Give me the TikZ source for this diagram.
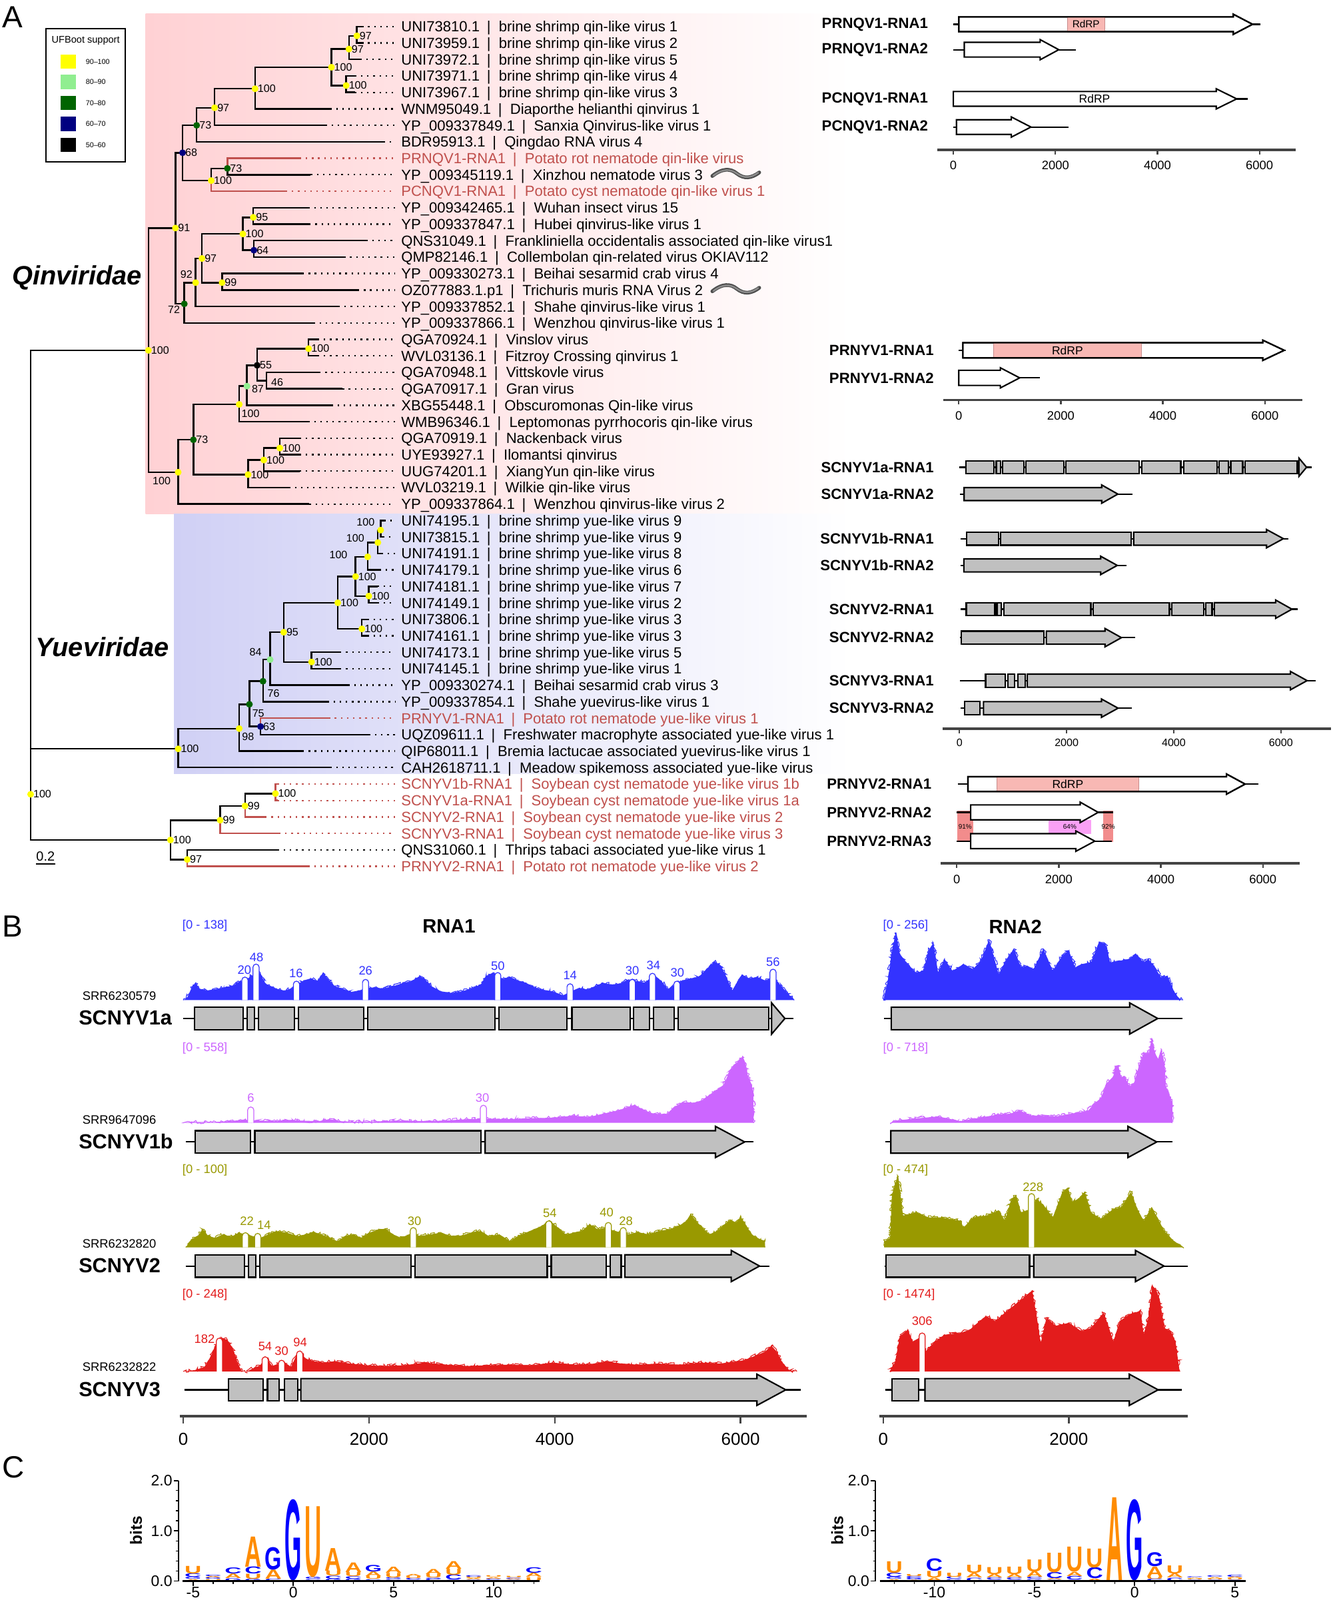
\documentclass[tikz,border=0pt]{standalone}
\usepackage{fontspec}
\setmainfont{Liberation Sans}
\usepackage{graphicx}
\usetikzlibrary{decorations.pathmorphing}
\newcommand\fsz[1]{\fontsize{#1}{#1}\selectfont}
\newcommand\vsep{\hspace{7pt}|\hspace{8pt}}
\definecolor{qpink}{RGB}{255,209,212}
\definecolor{yblue}{RGB}{208,208,245}
\definecolor{tred}{RGB}{192,80,77}
\definecolor{ufyel}{RGB}{255,255,0}
\definecolor{uflg}{RGB}{144,238,144}
\definecolor{ufdg}{RGB}{0,100,0}
\definecolor{ufnv}{RGB}{0,0,128}
\definecolor{covblue}{RGB}{51,51,255}
\definecolor{covviol}{RGB}{204,102,255}
\definecolor{covolive}{RGB}{153,153,0}
\definecolor{covred}{RGB}{227,28,28}
\definecolor{rdrp}{RGB}{248,184,180}
\definecolor{rdrpd}{RGB}{200,140,140}
\definecolor{pct}{RGB}{242,140,140}
\definecolor{pctm}{RGB}{250,160,245}
\definecolor{logoA}{RGB}{255,140,0}
\definecolor{logoU}{RGB}{255,140,0}
\definecolor{logoG}{RGB}{0,0,255}
\definecolor{logoC}{RGB}{0,0,255}
\definecolor{axgray}{RGB}{68,68,68}
\definecolor{ggray}{RGB}{192,192,192}
\tikzset{
  br/.style={line width=1.6pt},
  lead/.style={line width=1.5pt, dash pattern=on 1.5pt off 4.5pt},
  lab/.style={inner sep=0pt, font=\fsz{14.4}},
  sup/.style={inner sep=0pt, font=\fsz{10.5}},
  gdraw/.style={line width=1.4pt, line join=miter},
  glab/.style={inner sep=0pt, anchor=east, font={\fsz{14.5}\bfseries}},
  axisl/.style={line width=2.5pt, draw=axgray},
  tickl/.style={line width=1.5pt, draw=axgray},
  ticklab/.style={inner sep=0pt, anchor=north},
  jag/.style={line width=0.7pt, decorate, decoration={random steps,segment length=1.3pt,amplitude=1.7pt}},
}
\newcommand\tip[4]{%
  \pgfmathsetmacro\ty{26+(#1-1)*16.137}%
  \coordinate (t#1) at (#2,\ty);%
  \coordinate (e#1) at (387,\ty);%
  \node[lab,text=#4,anchor=base west] (L#1) at (393,\ty+5.2) {#3};%
  \draw[lead,draw=#4] (t#1) -- (e#1);}
\newcommand\ed[3][black]{\draw[br,draw=#1] (#2) |- (#3);}
\newcommand\dt[2]{\fill[#2] (#1) circle (3.3pt);}
\newcommand\supl[2]{\node[sup,anchor=west] (s-#1) at ([xshift=2.5pt]#1) {#2};}
\newcommand\gln[2]{\draw[gdraw] (#1,0) -- (#2,0);}
\newcommand\gbx[3]{\filldraw[gdraw,fill=#3] (#1,-\gbh) rectangle (#2,\gbh);}
\newcommand\gar[4]{\filldraw[gdraw,fill=#4] (#1,-\gbh) -- (#2,-\gbh) -- (#2,-\ghh) -- (#3,0) -- (#2,\ghh) -- (#2,\gbh) -- (#1,\gbh) -- cycle;}
\newcommand\garo[3]{\draw[gdraw] (#1,-\gbh) -- (#2,-\gbh) -- (#2,-\ghh) -- (#3,0) -- (#2,\ghh) -- (#2,\gbh) -- (#1,\gbh) -- cycle;}
\newcommand\genAa{\gln{0}{6570}\gbx{120}{645}{ggray}\gbx{686}{768}{ggray}\gbx{808}{1200}{ggray}\gbx{1242}{1944}{ggray}\gbx{1989}{3354}{ggray}\gbx{3402}{4130}{ggray}\gbx{4185}{4810}{ggray}\gbx{4847}{5018}{ggray}\gbx{5063}{5286}{ggray}\gbx{5330}{6305}{ggray}\filldraw[gdraw,fill=ggray] (6335,-\ghh) -- (6478,0) -- (6335,\ghh) -- cycle;}
\newcommand\genAb{\gln{10}{3225}\gar{86}{2653}{2956}{ggray}}
\newcommand\genBa{\gln{25}{6137}\gbx{130}{726}{ggray}\gbx{770}{3205}{ggray}\gar{3250}{5730}{6045}{ggray}}
\newcommand\genBb{\gln{25}{3115}\gar{82}{2635}{2945}{ggray}}
\newcommand\genCa{\gln{25}{6310}\gbx{127}{662}{ggray}\gbx{699}{780}{ggray}\gbx{825}{2452}{ggray}\gbx{2495}{3919}{ggray}\gbx{3962}{4557}{ggray}\gbx{4600}{4715}{ggray}\gar{4756}{5900}{6205}{ggray}}
\newcommand\genCb{\gln{13}{3282}\gbx{32}{1575}{ggray}\gar{1620}{2716}{3023}{ggray}}
\newcommand\genDa{\gln{10}{6645}\gbx{488}{858}{ggray}\gbx{906}{1030}{ggray}\gbx{1087}{1231}{ggray}\gar{1266}{6177}{6488}{ggray}}
\newcommand\genDb{\gln{25}{3213}\gbx{97}{380}{ggray}\gar{449}{2650}{2960}{ggray}}
\newcommand\junc[7]{%
  \filldraw[fill=white,draw=#4,line width=0.8pt] (#1-3,#2) -- (#1-3,#3+3) arc[start angle=180,end angle=0,radius=3pt] -- (#1+3,#2);
  \node[inner sep=0pt,font=\fsz{12},text=#4] at (#6,#7) {#5};}
\newcommand\logocol[3]{%
  \pgfmathsetmacro\lgx{#1+19.64*#2}%
  \gdef\cumh{0}%
  \foreach \lL/\lH in {#3}{%
    \pgfmathsetmacro\ybot{1549.4-\cumh*49.2}%
    \pgfmathsetmacro\lhh{\lH*49.2}%
    \node[inner sep=0pt,anchor=south] at (\lgx,\ybot) {\resizebox*{16.5pt}{\lhh pt}{\bfseries\color{logo\lL}\lL}};%
    \pgfmathsetmacro\newc{\cumh+\lH}\xdef\cumh{\newc}%
  }}
\begin{document}
\begin{tikzpicture}[x=1pt,y=-1pt]
\useasboundingbox (0,0) rectangle (1306,1568);
\fill[white] (0,0) rectangle (1306,1568);
% ---------- backgrounds
\shade[left color=qpink,middle color=qpink!80!white,right color=white] (142.7,13.6) rectangle (835,503.6);
\shade[left color=yblue,middle color=yblue!80!white,right color=white] (170.5,503.6) rectangle (835,757.9);
% ---------- panel letters
\node[anchor=north west,inner sep=0pt,font=\fsz{30}] (pA) at (2,6) {A};
\node[anchor=north west,inner sep=0pt,font=\fsz{30}] (pB) at (2,897) {B};
\node[anchor=north west,inner sep=0pt,font=\fsz{30}] (pC) at (2,1427) {C};
% ---------- legend
\draw[line width=1.4pt] (45.2,28.3) rectangle (122.6,158.8);
\node[inner sep=0pt,font=\fsz{9.5}] (legt) at (84,39.5) {UFBoot support};
\fill[ufyel] (59.6,53.4) rectangle (74.4,67.4);
\fill[uflg] (59.6,73.2) rectangle (74.4,87.2);
\fill[ufdg] (59.6,94) rectangle (74.4,108);
\fill[ufnv] (59.6,114.5) rectangle (74.4,128.5);
\fill[black] (59.6,134.9) rectangle (74.4,148.9);
\node[anchor=west,inner sep=0pt,font=\fsz{7}] (lg1) at (83.9,60.4) {90--100};
\node[anchor=west,inner sep=0pt,font=\fsz{7}] (lg2) at (83.9,80.2) {80--90};
\node[anchor=west,inner sep=0pt,font=\fsz{7}] (lg3) at (83.9,101) {70--80};
\node[anchor=west,inner sep=0pt,font=\fsz{7}] (lg4) at (83.9,121.5) {60--70};
\node[anchor=west,inner sep=0pt,font=\fsz{7}] (lg5) at (83.9,141.9) {50--60};
% ---------- tips
\tip{1}{354.6}{UNI73810.1\vsep brine shrimp qin-like virus 1}{black}
\tip{2}{354.6}{UNI73959.1\vsep brine shrimp qin-like virus 2}{black}
\tip{3}{353}{UNI73972.1\vsep brine shrimp qin-like virus 5}{black}
\tip{4}{347.8}{UNI73971.1\vsep brine shrimp qin-like virus 4}{black}
\tip{5}{347.8}{UNI73967.1\vsep brine shrimp qin-like virus 3}{black}
\tip{6}{323.5}{WNM95049.1\vsep Diaporthe helianthi qinvirus 1}{black}
\tip{7}{319}{YP\_009337849.1\vsep Sanxia Qinvirus-like virus 1}{black}
\tip{8}{376}{BDR95913.1\vsep Qingdao RNA virus 4}{black}
\tip{9}{293.7}{PRNQV1-RNA1\vsep Potato rot nematode qin-like virus}{tred}
\tip{10}{304.5}{YP\_009345119.1\vsep Xinzhou nematode virus 3}{black}
\tip{11}{280}{PCNQV1-RNA1\vsep Potato cyst nematode qin-like virus 1}{tred}
\tip{12}{301.8}{YP\_009342465.1\vsep Wuhan insect virus 15}{black}
\tip{13}{303}{YP\_009337847.1\vsep Hubei qinvirus-like virus 1}{black}
\tip{14}{358.7}{QNS31049.1\vsep Frankliniella occidentalis associated qin-like virus1}{black}
\tip{15}{337}{QMP82146.1\vsep Collembolan qin-related virus OKIAV112}{black}
\tip{16}{296.4}{YP\_009330273.1\vsep Beihai sesarmid crab virus 4}{black}
\tip{17}{350.6}{OZ077883.1.p1\vsep Trichuris muris RNA Virus 2}{black}
\tip{18}{331.6}{YP\_009337852.1\vsep Shahe qinvirus-like virus 1}{black}
\tip{19}{307.2}{YP\_009337866.1\vsep Wenzhou qinvirus-like virus 1}{black}
\tip{20}{311.3}{QGA70924.1\vsep Vinslov virus}{black}
\tip{21}{311.3}{WVL03136.1\vsep Fitzroy Crossing qinvirus 1}{black}
\tip{22}{312.7}{QGA70948.1\vsep Vittskovle virus}{black}
\tip{23}{335.7}{QGA70917.1\vsep Gran virus}{black}
\tip{24}{324.8}{XBG55448.1\vsep Obscuromonas Qin-like virus}{black}
\tip{25}{301.8}{WMB96346.1\vsep Leptomonas pyrrhocoris qin-like virus}{black}
\tip{26}{293.7}{QGA70919.1\vsep Nackenback virus}{black}
\tip{27}{293.7}{UYE93927.1\vsep Ilomantsi qinvirus}{black}
\tip{28}{293.7}{UUG74201.1\vsep XiangYun qin-like virus}{black}
\tip{29}{282.9}{WVL03219.1\vsep Wilkie qin-like virus}{black}
\tip{30}{303.2}{YP\_009337864.1\vsep Wenzhou qinvirus-like virus 2}{black}
\tip{31}{376.3}{UNI74195.1\vsep brine shrimp yue-like virus 9}{black}
\tip{32}{375}{UNI73815.1\vsep brine shrimp yue-like virus 9}{black}
\tip{33}{374}{UNI74191.1\vsep brine shrimp yue-like virus 8}{black}
\tip{34}{372}{UNI74179.1\vsep brine shrimp yue-like virus 6}{black}
\tip{35}{370}{UNI74181.1\vsep brine shrimp yue-like virus 7}{black}
\tip{36}{370}{UNI74149.1\vsep brine shrimp yue-like virus 2}{black}
\tip{37}{360}{UNI73806.1\vsep brine shrimp yue-like virus 3}{black}
\tip{38}{360}{UNI74161.1\vsep brine shrimp yue-like virus 3}{black}
\tip{39}{333}{UNI74173.1\vsep brine shrimp yue-like virus 5}{black}
\tip{40}{333}{UNI74145.1\vsep brine shrimp yue-like virus 1}{black}
\tip{41}{341}{YP\_009330274.1\vsep Beihai sesarmid crab virus 3}{black}
\tip{42}{320.8}{YP\_009337854.1\vsep Shahe yuevirus-like virus 1}{black}
\tip{43}{322}{PRNYV1-RNA1\vsep Potato rot nematode yue-like virus 1}{tred}
\tip{44}{361.4}{UQZ09611.1\vsep Freshwater macrophyte associated yue-like virus 1}{black}
\tip{45}{296.4}{QIP68011.1\vsep Bremia lactucae associated yuevirus-like virus 1}{black}
\tip{46}{323.5}{CAH2618711.1\vsep Meadow spikemoss associated yue-like virus}{black}
\tip{47}{272}{SCNYV1b-RNA1\vsep Soybean cyst nematode yue-like virus 1b}{tred}
\tip{48}{272}{SCNYV1a-RNA1\vsep Soybean cyst nematode yue-like virus 1a}{tred}
\tip{49}{259.9}{SCNYV2-RNA1\vsep Soybean cyst nematode yue-like virus 2}{tred}
\tip{50}{273.4}{SCNYV3-RNA1\vsep Soybean cyst nematode yue-like virus 3}{tred}
\tip{51}{272}{QNS31060.1\vsep Thrips tabaci associated yue-like virus 1}{black}
\tip{52}{301.8}{PRNYV2-RNA1\vsep Potato rot nematode yue-like virus 2}{tred}
% ---------- internal nodes
\coordinate (q0) at (145.4,343.3);
\coordinate (n91) at (171.9,223.5);
\coordinate (nlow) at (174.6,462.8);
\coordinate (n68) at (178.9,149.7);
\coordinate (n72) at (180.6,297.8);
\coordinate (n73a) at (192.7,122.8);
\coordinate (n100b) at (207.0,177.0);
\coordinate (n97a) at (210.3,105.6);
\coordinate (n100c) at (249.9,87.0);
\coordinate (n100d) at (324.8,65.9);
\coordinate (n97b) at (341.9,48.1);
\coordinate (n97c) at (349.7,35.1);
\coordinate (n100e) at (339.2,83.8);
\coordinate (n73b) at (222.8,165.0);
\coordinate (n92) at (191.7,277.0);
\coordinate (n97d) at (197.9,253.3);
\coordinate (n100f) at (238.0,229.3);
\coordinate (n95) at (248.2,213.0);
\coordinate (n64) at (248.8,245.2);
\coordinate (n99) at (217.6,277.0);
\coordinate (n73c) at (189.5,431.0);
\coordinate (n100g) at (234.4,396.3);
\coordinate (n87) at (242.0,378.4);
\coordinate (n55) at (252.0,358.0);
\coordinate (n100i) at (302.4,341.7);
\coordinate (n46) at (261.0,373.0);
\coordinate (n100h) at (243.1,465.1);
\coordinate (n100j) at (258.5,450.8);
\coordinate (n100k) at (274.2,439.1);
\coordinate (ny) at (174.6,733.9);
\coordinate (n98) at (234.4,714.0);
\coordinate (n75) at (244.4,690.2);
\coordinate (n63) at (255.3,712.0);
\coordinate (n76) at (257.7,667.6);
\coordinate (n84) at (264.7,646.4);
\coordinate (n95y) at (278.0,619.6);
\coordinate (ny1) at (331.0,590.7);
\coordinate (ny2) at (305.3,648.7);
\coordinate (ny3) at (348.4,565.0);
\coordinate (ny4) at (354.6,616.3);
\coordinate (ny5) at (360.3,545.7);
\coordinate (ny6) at (361.4,584.1);
\coordinate (ny7) at (370.3,531.7);
\coordinate (ny8) at (373.0,519.5);
\coordinate (no) at (167.0,823.2);
\coordinate (n99a) at (215.7,803.8);
\coordinate (n99b) at (240.1,789.8);
\coordinate (n100o) at (269.9,777.7);
\coordinate (n97o) at (183.5,842.3);
\coordinate (qy) at (30,538.6);
\coordinate (root) at (30,778.4);
% ---------- edges
\ed{qy}{q0} \ed{qy}{ny} \ed{root}{qy} \ed{root}{no}
\ed{q0}{n91} \ed{q0}{nlow}
\ed{n91}{n68} \ed{n91}{n72}
\ed{n68}{n73a} \ed{n68}{n100b}
\ed{n73a}{n97a} \ed{n73a}{t8}
\ed{n97a}{n100c} \ed{n97a}{t7}
\ed{n100c}{n100d} \ed{n100c}{t6}
\ed{n100d}{n97b} \ed{n100d}{n100e}
\ed{n97b}{n97c} \ed{n97b}{t3}
\ed{n97c}{t1} \ed{n97c}{t2}
\ed{n100e}{t4} \ed{n100e}{t5}
\ed{n100b}{n73b} \ed[tred]{n100b}{t11}
\ed[tred]{n73b}{t9} \ed{n73b}{t10}
\ed{n72}{n92} \ed{n72}{t19}
\ed{n92}{n97d} \ed{n92}{t18}
\ed{n97d}{n100f} \ed{n97d}{n99}
\ed{n100f}{n95} \ed{n100f}{n64}
\ed{n95}{t12} \ed{n95}{t13}
\ed{n64}{t14} \ed{n64}{t15}
\ed{n99}{t16} \ed{n99}{t17}
\ed{nlow}{n73c} \ed{nlow}{t30}
\ed{n73c}{n100g} \ed{n73c}{n100h}
\ed{n100g}{n87} \ed{n100g}{t25}
\ed{n87}{n55} \ed{n87}{t24}
\ed{n55}{n100i} \ed{n55}{n46}
\ed{n100i}{t20} \ed{n100i}{t21}
\ed{n46}{t22} \ed{n46}{t23}
\ed{n100h}{n100j} \ed{n100h}{t29}
\ed{n100j}{n100k} \ed{n100j}{t28}
\ed{n100k}{t26} \ed{n100k}{t27}
\ed{ny}{n98} \ed{ny}{t46}
\ed{n98}{n75} \ed{n98}{t45}
\ed{n75}{n76} \ed{n75}{n63}
\ed[tred]{n63}{t43} \ed{n63}{t44}
\ed{n76}{n84} \ed{n76}{t42}
\ed{n84}{n95y} \ed{n84}{t41}
\ed{n95y}{ny1} \ed{n95y}{ny2}
\ed{ny2}{t39} \ed{ny2}{t40}
\ed{ny1}{ny3} \ed{ny1}{ny4}
\ed{ny4}{t37} \ed{ny4}{t38}
\ed{ny3}{ny5} \ed{ny3}{ny6}
\ed{ny6}{t35} \ed{ny6}{t36}
\ed{ny5}{ny7} \ed{ny5}{t34}
\ed{ny7}{ny8} \ed{ny7}{t33}
\ed{ny8}{t31} \ed{ny8}{t32}
\ed{no}{n99a} \ed{no}{n97o}
\ed{n99a}{n99b} \ed[tred]{n99a}{t50}
\ed{n99b}{n100o} \ed[tred]{n99b}{t49}
\ed[tred]{n100o}{t47} \ed[tred]{n100o}{t48}
\ed{n97o}{t51} \ed[tred]{n97o}{t52}
% ---------- support dots
\foreach \nn in {n97c,n97b,n100d,n100e,n100c,n97a,n100b,n91,n95,n100f,n97d,n99,n92,q0,n100i,n100g,n100k,n100j,n100h,nlow,ny8,ny7,ny5,ny3,ny6,ny1,ny4,ny2,n95y,n98,ny,root,no,n99a,n99b,n100o,n97o}{\dt{\nn}{ufyel}}
\foreach \nn in {n73a,n73b,n72,n73c,n76,n75}{\dt{\nn}{ufdg}}
\foreach \nn in {n68,n64,n63}{\dt{\nn}{ufnv}}
\foreach \nn in {n87,n84}{\dt{\nn}{uflg}}
\dt{n55}{black}
% ---------- support labels
\supl{n97c}{97} \supl{n97b}{97} \supl{n100d}{100} \supl{n100e}{100} \supl{n100c}{100}
\supl{n97a}{97} \supl{n73a}{73} \supl{n68}{68} \supl{n73b}{73} \supl{n100b}{100}
\supl{n91}{91} \supl{n95}{95} \supl{n100f}{100} \supl{n64}{64} \supl{n97d}{97} \supl{n99}{99}
\supl{q0}{100} \supl{n100i}{100} \supl{n55}{55} \supl{n73c}{73} \supl{n100k}{100} \supl{n100j}{100}
\supl{n100h}{100}
\node[sup] (s92) at (182.7,269) {92};
\node[sup] (s72) at (170.5,303.7) {72};
\node[sup] (slow) at (158.4,471.6) {100};
\node[sup] (s100g) at (245.5,405.4) {100};
\node[sup] (s87) at (252.6,381) {87};
\node[sup] (s46) at (271.6,374.5) {46};
\supl{ny3}{100} \supl{ny6}{100} \supl{ny1}{100} \supl{ny4}{100} \supl{ny2}{100}
\supl{n95y}{95} \supl{n63}{63} \supl{ny}{100}
\node[sup] (sy8) at (358.3,511.9) {100};
\node[sup] (sy7) at (348.2,527.5) {100};
\node[sup] (sy5) at (331.6,543.8) {100};
\node[sup] (s84) at (250.4,639) {84};
\node[sup] (s76) at (268,679.8) {76};
\node[sup] (s75) at (253.1,699.1) {75};
\node[sup] (s98) at (243,721.7) {98};
\supl{root}{100} \supl{no}{100} \supl{n99a}{99} \supl{n99b}{99} \supl{n100o}{100} \supl{n97o}{97}
% ---------- family labels, scale bar, worms
\node[inner sep=0pt,font={\fsz{26}\bfseries\itshape}] (qin) at (75.4,272.2) {Qinviridae};
\node[inner sep=0pt,font={\fsz{26}\bfseries\itshape}] (yue) at (100.2,634.3) {Yueviridae};
\node[inner sep=0pt,font=\fsz{13}] (sc) at (44.6,839.5) {0.2};
\draw[line width=1.2pt] (35.2,846.5) -- (54.1,846.5);
\draw[line width=3.6pt,draw=black!70,line cap=round] (698,172.5) .. controls (708,164.5) and (716,165) .. (722,170) .. controls (729,175.5) and (736,175) .. (744,169);
\draw[line width=1.6pt,draw=black!45,line cap=round] (699,172.2) .. controls (708,165) and (716,165.5) .. (722,170) .. controls (729,175) and (736,174.5) .. (743,169.2);
\draw[line width=3.6pt,draw=black!70,line cap=round] (698,285.5) .. controls (708,277.5) and (716,278) .. (722,283) .. controls (729,288.5) and (736,288) .. (744,282);
\draw[line width=1.6pt,draw=black!45,line cap=round] (699,285.2) .. controls (708,278) and (716,278.5) .. (722,283) .. controls (729,288) and (736,287.5) .. (743,282.2);
% ---------- genome maps, group 1
\node[glab] (g1) at (909.5,23.8) {PRNQV1-RNA1};
\node[glab] (g2) at (909.5,48.7) {PRNQV1-RNA2};
\node[glab] (g3) at (909.5,96.9) {PCNQV1-RNA1};
\node[glab] (g4) at (909.5,124.5) {PCNQV1-RNA2};
\begin{scope}[shift={(934.2pt,-23.8pt)},x=0.05pt]
 \def\gbh{7.2}\def\ghh{9.9}
 \gln{0}{6016}\gar{106}{5484}{5864}{white}
 \filldraw[fill=rdrp,draw=rdrpd,line width=0.5pt] (2232,-7.2) rectangle (2966,7.2);
 \garo{106}{5484}{5864}
 \node[inner sep=0pt,font=\fsz{10}] (r1) at (2599,0) {RdRP};
\end{scope}
\begin{scope}[shift={(934.2pt,-48.7pt)},x=0.05pt]
 \def\gbh{7.2}\def\ghh{9.9}
 \gln{0}{2406}\gar{214}{1700}{2066}{white}
\end{scope}
\begin{scope}[shift={(934.2pt,-96.9pt)},x=0.05pt]
 \def\gbh{7.2}\def\ghh{9.9}
 \gln{5500}{5764}\gar{0}{5152}{5552}{white}
 \node[inner sep=0pt,font=\fsz{11.4}] (r2) at (2766,0) {RdRP};
\end{scope}
\begin{scope}[shift={(934.2pt,-124.5pt)},x=0.05pt]
 \def\gbh{7.2}\def\ghh{9.9}
 \gln{0}{2252}\gar{60}{1136}{1520}{white}
\end{scope}
\draw[axisl] (918.5,147) -- (1269.4,147);
\foreach \v/\xx in {0/934.2,2000/1034.2,4000/1134.2,6000/1234.2}{\draw[tickl] (\xx,147) -- (\xx,151.5); \node[ticklab,font=\fsz{12}] at (\xx,157.6) {\v};}
% ---------- group 2
\node[glab] (g5) at (915.2,343.3) {PRNYV1-RNA1};
\node[glab] (g6) at (915.2,370.3) {PRNYV1-RNA2};
\begin{scope}[shift={(939.5pt,-343.3pt)},x=0.05pt]
 \def\gbh{7.4}\def\ghh{9.9}
 \gln{0}{6410}\gar{80}{5958}{6378}{white}
 \filldraw[fill=rdrp,draw=rdrpd,line width=0.5pt] (680,-7.4) rectangle (3580,7.4);
 \garo{80}{5958}{6378}
 \node[inner sep=0pt,font=\fsz{11.4}] (r3) at (2130,0) {RdRP};
\end{scope}
\begin{scope}[shift={(939.5pt,-370.3pt)},x=0.05pt]
 \def\gbh{7.4}\def\ghh{9.9}
 \gln{1100}{1594}\gar{0}{814}{1194}{white}
\end{scope}
\draw[axisl] (924.2,392) -- (1276,392);
\foreach \v/\xx in {0/939.5,2000/1039.5,4000/1139.5,6000/1239.5}{\draw[tickl] (\xx,392) -- (\xx,396.5); \node[ticklab,font=\fsz{12}] at (\xx,403.1) {\v};}
% ---------- group 3 (SCNYV)
\node[glab] (g7) at (915.2,457.9) {SCNYV1a-RNA1};
\node[glab] (g8) at (915.2,484.2) {SCNYV1a-RNA2};
\node[glab] (g9) at (915.2,527.9) {SCNYV1b-RNA1};
\node[glab] (g10) at (915.2,554.1) {SCNYV1b-RNA2};
\node[glab] (g11) at (915.2,597.0) {SCNYV2-RNA1};
\node[glab] (g12) at (915.2,624.9) {SCNYV2-RNA2};
\node[glab] (g13) at (915.2,667.0) {SCNYV3-RNA1};
\node[glab] (g14) at (915.2,694.0) {SCNYV3-RNA2};
\def\gbh{6.4}\def\ghh{9}
\begin{scope}[shift={(940.2pt,-457.9pt)},x=0.0525pt]\genAa\end{scope}
\begin{scope}[shift={(940.2pt,-484.2pt)},x=0.0525pt]\genAb\end{scope}
\begin{scope}[shift={(940.2pt,-527.9pt)},x=0.0525pt]\genBa\end{scope}
\begin{scope}[shift={(940.2pt,-554.1pt)},x=0.0525pt]\genBb\end{scope}
\begin{scope}[shift={(940.2pt,-597.0pt)},x=0.0525pt]\genCa\end{scope}
\begin{scope}[shift={(940.2pt,-624.9pt)},x=0.0525pt]\genCb\end{scope}
\begin{scope}[shift={(940.2pt,-667.0pt)},x=0.0525pt]\genDa\end{scope}
\begin{scope}[shift={(940.2pt,-694.0pt)},x=0.0525pt]\genDb\end{scope}
\draw[axisl] (923.5,714.4) -- (1304,714.4);
\foreach \v/\xx in {0/940.2,2000/1045.2,4000/1150.2,6000/1255.2}{\draw[tickl] (\xx,714.4) -- (\xx,718.9); \node[ticklab,font=\fsz{10.5}] at (\xx,723.8) {\v};}
% ---------- group 4 (PRNYV2)
\node[glab] (g15) at (912.9,768.4) {PRNYV2-RNA1};
\node[glab] (g16) at (912.9,796.1) {PRNYV2-RNA2};
\node[glab] (g17) at (912.9,824.3) {PRNYV2-RNA3};
\fill[pct] (937.9,794.6) rectangle (953.5,825.2);
\fill[pctm] (1027.5,803.4) rectangle (1069.2,817);
\fill[pct] (1080.8,794.6) rectangle (1090.8,825.2);
\begin{scope}[shift={(937.5pt,-768.4pt)},x=0.05pt]
 \def\gbh{7.3}\def\ghh{9.9}
 \gln{20}{5918}\gar{220}{5286}{5652}{white}
 \filldraw[fill=rdrp,draw=rdrpd,line width=0.5pt] (788,-7.3) rectangle (3566,7.3);
 \garo{220}{5286}{5652}
 \node[inner sep=0pt,font=\fsz{11.4}] (r4) at (2177,0) {RdRP};
\end{scope}
\begin{scope}[shift={(937.5pt,-796.1pt)},x=0.05pt]
 \def\gbh{7.3}\def\ghh{10}
 \gln{0}{3066}\gar{274}{2420}{2772}{white}
\end{scope}
\begin{scope}[shift={(937.5pt,-824.3pt)},x=0.05pt]
 \def\gbh{7.3}\def\ghh{10}
 \gln{0}{3040}\gar{274}{2334}{2706}{white}
\end{scope}
\node[inner sep=0pt,font=\fsz{6.5}] (p91) at (945.7,810) {91\%};
\node[inner sep=0pt,font=\fsz{6.5}] (p64) at (1048.3,810) {64\%};
\node[inner sep=0pt,font=\fsz{6.5}] (p92) at (1086,810) {92\%};
\draw[axisl] (921.9,846.2) -- (1273.4,846.2);
\foreach \v/\xx in {0/937.5,2000/1037.5,4000/1137.5,6000/1237.5}{\draw[tickl] (\xx,846.2) -- (\xx,850.7); \node[ticklab,font=\fsz{12}] at (\xx,857.3) {\v};}
% ---------- panel B coverage, RNA1
\begin{scope}[shift={(0pt,-881.5pt)},x=0.5206pt,y=-0.3332pt]
\def\profBA{(345,296) -- (352,290) -- (362,255) -- (368,245) -- (375,262) -- (390,268) -- (410,262) -- (425,258) -- (440,252) -- (452,240) -- (462,248) -- (472,222) -- (480,228) -- (490,215) -- (498,245) -- (508,255) -- (520,262) -- (535,268) -- (548,262) -- (560,250) -- (572,238) -- (585,232) -- (598,240) -- (608,215) -- (618,235) -- (630,255) -- (645,262) -- (660,272) -- (675,268) -- (690,262) -- (705,258) -- (720,262) -- (740,255) -- (760,245) -- (775,240) -- (790,225) -- (800,235) -- (812,255) -- (830,270) -- (850,275) -- (870,270) -- (890,260) -- (905,250) -- (915,225) -- (928,215) -- (945,235) -- (960,228) -- (975,238) -- (990,245) -- (1005,258) -- (1020,265) -- (1040,270) -- (1060,282) -- (1075,270) -- (1090,260) -- (1105,265) -- (1120,255) -- (1135,245) -- (1150,250) -- (1165,248) -- (1180,238) -- (1200,240) -- (1215,245) -- (1230,220) -- (1245,240) -- (1258,265) -- (1270,250) -- (1285,238) -- (1300,232) -- (1315,228) -- (1330,205) -- (1345,182) -- (1358,198) -- (1368,230) -- (1378,268) -- (1388,242) -- (1398,222) -- (1410,232) -- (1425,228) -- (1440,238) -- (1455,230) -- (1465,245) -- (1478,268) -- (1488,285) -- (1495,296)}
\fill[covblue] \profBA -- cycle;
\draw[covblue,jag] \profBA;
\def\profVA{(345,657) -- (360,654) -- (400,655) -- (430,652) -- (460,648) -- (480,650) -- (520,652) -- (540,648) -- (560,650) -- (600,652) -- (620,646) -- (640,652) -- (680,654) -- (720,652) -- (760,650) -- (800,652) -- (840,650) -- (880,646) -- (920,645) -- (960,646) -- (1000,643) -- (1040,642) -- (1080,636) -- (1110,640) -- (1135,630) -- (1160,622) -- (1180,612) -- (1195,604) -- (1210,618) -- (1230,630) -- (1255,632) -- (1270,610) -- (1285,596) -- (1305,598) -- (1320,592) -- (1335,575) -- (1350,560) -- (1362,545) -- (1372,510) -- (1380,490) -- (1390,475) -- (1398,462) -- (1403,480) -- (1408,520) -- (1415,545) -- (1418,570) -- (1418,657)}
\fill[covviol] \profVA -- cycle;
\draw[covviol,jag] \profVA;
\def\profOA{(350,1023) -- (360,1000) -- (372,990) -- (382,970) -- (392,990) -- (405,995) -- (420,985) -- (435,992) -- (450,980) -- (470,988) -- (490,995) -- (505,985) -- (520,975) -- (540,980) -- (560,990) -- (575,985) -- (590,978) -- (605,985) -- (620,995) -- (635,1005) -- (650,990) -- (665,985) -- (680,995) -- (695,980) -- (710,972) -- (725,968) -- (740,985) -- (755,995) -- (770,985) -- (790,990) -- (810,985) -- (830,980) -- (850,990) -- (870,988) -- (890,978) -- (905,975) -- (920,990) -- (940,985) -- (960,1005) -- (975,990) -- (990,980) -- (1005,970) -- (1020,960) -- (1035,945) -- (1050,965) -- (1065,985) -- (1080,980) -- (1095,975) -- (1110,955) -- (1125,970) -- (1140,965) -- (1155,975) -- (1170,980) -- (1185,985) -- (1200,978) -- (1220,985) -- (1240,975) -- (1260,970) -- (1280,958) -- (1292,945) -- (1300,925) -- (1310,945) -- (1322,965) -- (1335,985) -- (1350,975) -- (1362,958) -- (1375,942) -- (1385,950) -- (1395,935) -- (1405,960) -- (1415,985) -- (1425,995) -- (1440,1005) -- (1440,1023)}
\fill[covolive] \profOA -- cycle;
\draw[covolive,jag] \profOA;
\def\profRA{(345,1388) -- (365,1385) -- (385,1375) -- (398,1340) -- (408,1300) -- (418,1290) -- (428,1295) -- (438,1320) -- (448,1365) -- (455,1388) -- (465,1388) -- (475,1380) -- (490,1370) -- (500,1345) -- (512,1372) -- (525,1365) -- (535,1360) -- (548,1375) -- (558,1340) -- (565,1330) -- (575,1350) -- (590,1358) -- (610,1362) -- (630,1358) -- (660,1365) -- (690,1370) -- (720,1372) -- (760,1370) -- (800,1362) -- (840,1368) -- (880,1372) -- (920,1370) -- (960,1368) -- (1000,1370) -- (1040,1362) -- (1080,1368) -- (1120,1365) -- (1140,1358) -- (1170,1365) -- (1200,1368) -- (1240,1365) -- (1280,1368) -- (1320,1362) -- (1360,1365) -- (1400,1355) -- (1425,1340) -- (1440,1330) -- (1452,1312) -- (1462,1330) -- (1472,1360) -- (1485,1385) -- (1500,1388)}
\fill[covred] \profRA -- cycle;
\draw[covred,jag] \profRA;
\end{scope}
% ---------- panel B coverage, RNA2
\begin{scope}[shift={(816.2pt,-881.5pt)},x=0.3123pt,y=-0.3332pt]
\def\profBB{(158,296) -- (172,240) -- (185,150) -- (198,98) -- (210,160) -- (230,185) -- (260,215) -- (285,210) -- (300,150) -- (315,128) -- (330,215) -- (350,175) -- (375,210) -- (410,190) -- (440,205) -- (465,180) -- (490,118) -- (520,220) -- (545,175) -- (568,145) -- (590,200) -- (610,195) -- (630,205) -- (660,145) -- (690,210) -- (720,165) -- (740,150) -- (760,200) -- (780,190) -- (810,185) -- (835,125) -- (855,130) -- (870,185) -- (900,180) -- (930,175) -- (950,160) -- (975,185) -- (990,175) -- (1010,200) -- (1030,230) -- (1050,225) -- (1070,270) -- (1085,290) -- (1098,296)}
\fill[covblue] \profBB -- cycle;
\draw[covblue,jag] \profBB;
\def\profVB{(180,657) -- (200,650) -- (250,645) -- (330,638) -- (400,652) -- (460,642) -- (520,632) -- (560,630) -- (585,620) -- (620,635) -- (700,638) -- (760,628) -- (800,622) -- (820,600) -- (840,585) -- (860,540) -- (880,520) -- (885,490) -- (895,488) -- (905,525) -- (915,520) -- (930,550) -- (945,540) -- (960,490) -- (975,450) -- (990,455) -- (1000,410) -- (1010,450) -- (1020,470) -- (1030,440) -- (1040,480) -- (1045,550) -- (1060,585) -- (1065,600) -- (1065,657)}
\fill[covviol] \profVB -- cycle;
\draw[covviol,jag] \profVB;
\def\profOB{(162,1023) -- (162,1005) -- (180,995) -- (185,870) -- (195,835) -- (205,815) -- (212,870) -- (220,930) -- (260,920) -- (300,935) -- (340,935) -- (400,945) -- (410,965) -- (440,935) -- (480,930) -- (520,915) -- (540,945) -- (560,880) -- (575,870) -- (590,920) -- (610,915) -- (640,880) -- (660,900) -- (690,935) -- (720,860) -- (738,848) -- (750,890) -- (770,880) -- (790,860) -- (810,920) -- (840,940) -- (880,910) -- (905,905) -- (935,860) -- (955,910) -- (975,945) -- (1000,905) -- (1020,940) -- (1040,975) -- (1070,1005) -- (1100,1023)}
\fill[covolive] \profOB -- cycle;
\draw[covolive,jag] \profOB;
\def\profRB{(178,1388) -- (195,1360) -- (210,1285) -- (235,1265) -- (250,1300) -- (270,1290) -- (290,1330) -- (320,1300) -- (350,1280) -- (400,1275) -- (430,1265) -- (460,1240) -- (480,1225) -- (510,1240) -- (540,1215) -- (580,1185) -- (600,1170) -- (625,1150) -- (640,1230) -- (652,1305) -- (670,1230) -- (700,1255) -- (740,1245) -- (780,1270) -- (810,1260) -- (850,1215) -- (880,1300) -- (900,1240) -- (930,1220) -- (965,1210) -- (975,1280) -- (990,1230) -- (1002,1135) -- (1015,1150) -- (1025,1175) -- (1040,1260) -- (1060,1270) -- (1075,1300) -- (1085,1370) -- (1088,1388)}
\fill[covred] \profRB -- cycle;
\draw[covred,jag] \profRB;
\end{scope}
% ---------- junction arches
\junc{240}{980.1}{957.5}{covblue}{20}{239.5}{950.5}
\junc{250.9}{980.1}{944.8}{covblue}{48}{251.4}{938.1}
\junc{290.5}{980.1}{961.5}{covblue}{16}{290}{954.1}
\junc{358.2}{980.1}{959.8}{covblue}{26}{358.2}{951.5}
\junc{487.8}{980.1}{953.1}{covblue}{50}{487.8}{946.5}
\junc{558.6}{980.1}{964.1}{covblue}{14}{558.6}{955.8}
\junc{619.5}{980.1}{959.8}{covblue}{30}{619.5}{951.5}
\junc{639.3}{980.1}{953.8}{covblue}{34}{640.3}{945.8}
\junc{663.3}{980.1}{961.5}{covblue}{30}{663.8}{953.1}
\junc{757.5}{980.1}{949.8}{covblue}{56}{757.5}{942.5}
\junc{245.7}{1100.4}{1084.8}{covviol}{6}{245.7}{1075.8}
\junc{473.7}{1100.4}{1083.1}{covviol}{30}{472.7}{1075.8}
\junc{240.5}{1222.4}{1208}{covolive}{22}{242}{1196.4}
\junc{252.5}{1222.4}{1208.7}{covolive}{14}{258.7}{1200.4}
\junc{405}{1222.4}{1203}{covolive}{30}{406.1}{1196.4}
\junc{537.8}{1222.4}{1196.4}{covolive}{54}{538.8}{1189}
\junc{596.1}{1222.4}{1198}{covolive}{40}{594.5}{1188}
\junc{610.7}{1222.4}{1203}{covolive}{28}{613.3}{1196.4}
\junc{215}{1344}{1311.3}{covred}{182}{200.4}{1312}
\junc{259.8}{1344}{1329.7}{covred}{54}{259.8}{1319.7}
\junc{275.9}{1344}{1333}{covred}{30}{275.9}{1324}
\junc{293.6}{1344}{1324}{covred}{94}{294.1}{1315.7}
\junc{1010.8}{1222.4}{1169.7}{covolive}{228}{1012.3}{1163.2}
\junc{903.6}{1344}{1306.3}{covred}{306}{903.6}{1294.7}
% ---------- panel B labels
\node[inner sep=0pt,font={\fsz{19}\bfseries}] (t1lab) at (440,908) {RNA1};
\node[inner sep=0pt,font={\fsz{19}\bfseries}] (t2lab) at (995,908) {RNA2};
\node[anchor=west,inner sep=0pt,font=\fsz{12},text=covblue] (rg1) at (178.6,907.5) {[0 - 138]};
\node[anchor=west,inner sep=0pt,font=\fsz{12},text=covviol] (rg2) at (178.6,1027.4) {[0 - 558]};
\node[anchor=west,inner sep=0pt,font=\fsz{12},text=covolive] (rg3) at (178.6,1147) {[0 - 100]};
\node[anchor=west,inner sep=0pt,font=\fsz{12},text=covred] (rg4) at (178.6,1268.7) {[0 - 248]};
\node[anchor=west,inner sep=0pt,font=\fsz{12},text=covblue] (rg5) at (865.2,907.5) {[0 - 256]};
\node[anchor=west,inner sep=0pt,font=\fsz{12},text=covviol] (rg6) at (865.2,1027.4) {[0 - 718]};
\node[anchor=west,inner sep=0pt,font=\fsz{12},text=covolive] (rg7) at (865.2,1147) {[0 - 474]};
\node[anchor=west,inner sep=0pt,font=\fsz{12},text=covred] (rg8) at (865.2,1268.7) {[0 - 1474]};
\node[anchor=west,inner sep=0pt,font=\fsz{12}] (sr1) at (80.7,975.8) {SRR6230579};
\node[anchor=west,inner sep=0pt,font=\fsz{12}] (sr2) at (80.7,1097.4) {SRR9647096};
\node[anchor=west,inner sep=0pt,font=\fsz{12}] (sr3) at (80.7,1218.7) {SRR6232820};
\node[anchor=west,inner sep=0pt,font=\fsz{12}] (sr4) at (80.7,1339.7) {SRR6232822};
\node[anchor=west,inner sep=0pt,font={\fsz{20}\bfseries}] (vn1) at (77,997.6) {SCNYV1a};
\node[anchor=west,inner sep=0pt,font={\fsz{20}\bfseries}] (vn2) at (77,1118.6) {SCNYV1b};
\node[anchor=west,inner sep=0pt,font={\fsz{20}\bfseries}] (vn3) at (77,1240.2) {SCNYV2};
\node[anchor=west,inner sep=0pt,font={\fsz{20}\bfseries}] (vn4) at (77,1361.5) {SCNYV3};
% ---------- panel B genomes
\def\gbh{11}\def\ghh{15.3}
\begin{scope}[shift={(179.6pt,-998.1pt)},x=0.091pt]\genAa\end{scope}
\begin{scope}[shift={(179.6pt,-1119.1pt)},x=0.091pt]\genBa\end{scope}
\begin{scope}[shift={(179.6pt,-1240.7pt)},x=0.091pt]\genCa\end{scope}
\begin{scope}[shift={(179.6pt,-1362pt)},x=0.091pt]\genDa\end{scope}
\begin{scope}[shift={(865.5pt,-998.1pt)},x=0.091pt]\genAb\end{scope}
\begin{scope}[shift={(865.5pt,-1119.1pt)},x=0.091pt]\genBb\end{scope}
\begin{scope}[shift={(865.5pt,-1240.7pt)},x=0.091pt]\genCb\end{scope}
\begin{scope}[shift={(865.5pt,-1362pt)},x=0.091pt]\genDb\end{scope}
\draw[axisl] (176,1388) -- (790.3,1388);
\draw[axisl] (861.5,1388) -- (1163.8,1388);
\foreach \v/\xx in {0/179.6,2000/361.6,4000/543.6,6000/725.6,0/865.5,2000/1047.3}{\draw[tickl] (\xx,1388) -- (\xx,1395); \node[ticklab,font=\fsz{17}] at (\xx,1404) {\v};}
% ---------- panel C
\draw[line width=1.2pt] (174.9,1451) -- (174.9,1549.4);
\draw[line width=1.2pt] (857.9,1451) -- (857.9,1549.4);
\foreach \b in {0,1,2}{\draw[line width=1pt] (170.5,1549.4-\b*49.2) -- (174.9,1549.4-\b*49.2); \draw[line width=1pt] (853.5,1549.4-\b*49.2) -- (857.9,1549.4-\b*49.2);}
\foreach \b in {0.2,0.4,0.6,0.8,1.2,1.4,1.6,1.8}{\draw[line width=0.8pt] (172.5,1549.4-\b*49.2) -- (174.9,1549.4-\b*49.2); \draw[line width=0.8pt] (855.5,1549.4-\b*49.2) -- (857.9,1549.4-\b*49.2);}
\node[anchor=east,inner sep=0pt,font=\fsz{15}] (ya1) at (169,1451) {2.0};
\node[anchor=east,inner sep=0pt,font=\fsz{15}] (ya2) at (169,1500.2) {1.0};
\node[anchor=east,inner sep=0pt,font=\fsz{15}] (ya3) at (169,1549.4) {0.0};
\node[anchor=east,inner sep=0pt,font=\fsz{15}] (yb1) at (852,1451) {2.0};
\node[anchor=east,inner sep=0pt,font=\fsz{15}] (yb2) at (852,1500.2) {1.0};
\node[anchor=east,inner sep=0pt,font=\fsz{15}] (yb3) at (852,1549.4) {0.0};
\node[rotate=90,inner sep=0pt,font={\fsz{16}\bfseries}] (bits1) at (133.3,1500) {bits};
\node[rotate=90,inner sep=0pt,font={\fsz{16}\bfseries}] (bits2) at (820.4,1500) {bits};
% left logo
\logocol{287.4}{-5}{A/0.03,G/0.04,C/0.07,U/0.15}
\logocol{287.4}{-4}{U/0.03,G/0.03,A/0.03,C/0.03}
\logocol{287.4}{-3}{G/0.05,A/0.09,C/0.12}
\logocol{287.4}{-2}{G/0.04,U/0.1,C/0.14,A/0.6}
\logocol{287.4}{-1}{C/0.04,A/0.18,G/0.45}
\logocol{287.4}{0}{G/1.62}
\logocol{287.4}{1}{C/0.03,G/0.04,U/1.41}
\logocol{287.4}{2}{G/0.04,C/0.06,U/0.1,A/0.45}
\logocol{287.4}{3}{G/0.04,C/0.05,U/0.08,A/0.19}
\logocol{287.4}{4}{C/0.03,U/0.06,A/0.09,G/0.13}
\logocol{287.4}{5}{C/0.03,G/0.03,U/0.09,A/0.12}
\logocol{287.4}{6}{G/0.02,C/0.03,U/0.04,A/0.04}
\logocol{287.4}{7}{C/0.04,G/0.02,U/0.07,A/0.1}
\logocol{287.4}{8}{G/0.02,C/0.1,U/0.12,A/0.15}
\logocol{287.4}{9}{G/0.02,A/0.03,U/0.03,C/0.03}
\logocol{287.4}{10}{G/0.02,C/0.02,A/0.03,U/0.03}
\logocol{287.4}{11}{G/0.02,A/0.02,C/0.02,U/0.03}
\logocol{287.4}{12}{U/0.07,A/0.08,C/0.11}
% right logo
\logocol{1111.9}{-12}{A/0.03,G/0.04,C/0.08,U/0.23}
\logocol{1111.9}{-11}{A/0.02,G/0.03,C/0.04,U/0.04}
\logocol{1111.9}{-10}{A/0.06,U/0.13,C/0.25}
\logocol{1111.9}{-9}{G/0.03,C/0.05,U/0.08}
\logocol{1111.9}{-8}{C/0.06,A/0.09,U/0.16}
\logocol{1111.9}{-7}{G/0.02,C/0.04,A/0.07,U/0.14}
\logocol{1111.9}{-6}{G/0.02,C/0.04,A/0.07,U/0.15}
\logocol{1111.9}{-5}{G/0.03,C/0.04,A/0.11,U/0.24}
\logocol{1111.9}{-4}{G/0.02,A/0.03,C/0.12,U/0.39}
\logocol{1111.9}{-3}{G/0.02,C/0.07,A/0.08,U/0.5}
\logocol{1111.9}{-2}{A/0.04,C/0.22,U/0.38}
\logocol{1111.9}{-1}{A/1.66}
\logocol{1111.9}{0}{G/1.62}
\logocol{1111.9}{1}{C/0.04,U/0.04,A/0.2,G/0.28}
\logocol{1111.9}{2}{C/0.06,A/0.08,U/0.16}
\logocol{1111.9}{3}{G/0.02,U/0.02,A/0.02,C/0.02}
\logocol{1111.9}{4}{G/0.02,U/0.02,A/0.03,C/0.03}
\logocol{1111.9}{5}{G/0.02,U/0.03,A/0.03,C/0.04}
\draw[line width=2pt] (179,1549.4) -- (528.9,1549.4);
\draw[line width=2pt] (862,1549.4) -- (1220.6,1549.4);
\foreach \p in {-5,...,12}{\draw[line width=0.8pt] (287.4+19.64*\p,1549.4) -- (287.4+19.64*\p,1552.5);}
\foreach \p in {-12,...,5}{\draw[line width=0.8pt] (1111.9+19.64*\p,1549.4) -- (1111.9+19.64*\p,1552.5);}
\foreach \v/\xx in {-5/189.2,0/287.4,5/385.6,10/483.8,-10/915.5,-5/1013.7,0/1111.9,5/1210.1}{\draw[line width=1.2pt] (\xx,1549.4) -- (\xx,1554); \node[ticklab,font=\fsz{15}] at (\xx,1555) {\v};}
\end{tikzpicture}
\end{document}
